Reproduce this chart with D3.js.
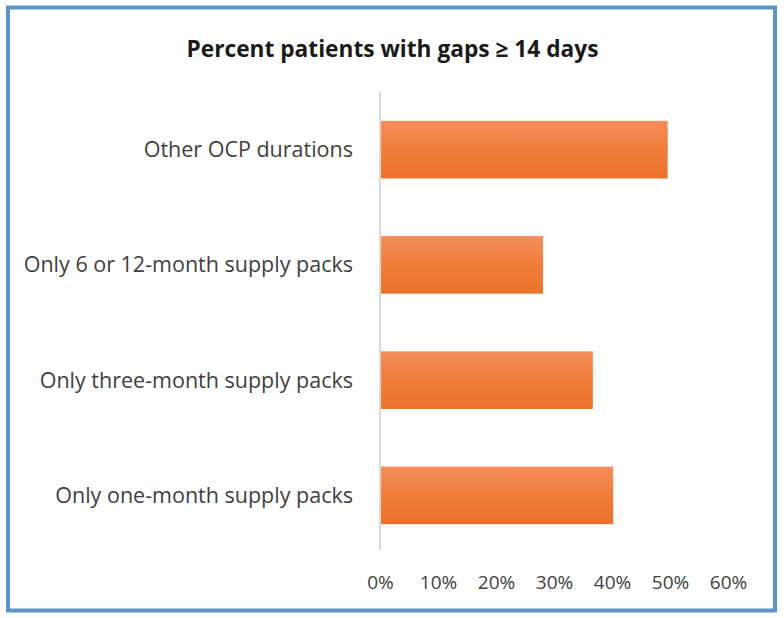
<!DOCTYPE html>
<html><head><meta charset="utf-8">
<script src="https://cdn.jsdelivr.net/npm/d3@7"></script>
<style>body{margin:0;background:#fff}svg{display:block}</style>
</head><body>
<script>
const categories = ["Other OCP durations","Only 6 or 12-month supply packs","Only three-month supply packs","Only one-month supply packs"];
const values = [49.6, 28.1, 36.7, 40.2];
const tickValues = [0,10,20,30,40,50,60];
const title = "Percent patients with gaps \u2265 14 days";

const W=784,H=618;
const FONT="'Open Sans', Lato, sans-serif";
const svg=d3.select("body").append("svg").attr("width",W).attr("height",H);
const defs=svg.append("defs");
const g=defs.append("linearGradient").attr("id","og").attr("x1",0).attr("y1",0).attr("x2",0).attr("y2",1);
g.append("stop").attr("offset","0%").attr("stop-color","#f48e5c");
g.append("stop").attr("offset","50%").attr("stop-color","#f07d3a");
g.append("stop").attr("offset","100%").attr("stop-color","#ec722c");

svg.append("rect").attr("x",8).attr("y",7.5).attr("width",767).attr("height",603)
  .attr("fill","#fff").attr("stroke","#5b93c8").attr("stroke-width",4);

svg.append("text").attr("x",392.5).attr("y",57).attr("text-anchor","middle")
  .attr("font-family",FONT).attr("font-weight","bold")
  .attr("font-size",22.7).attr("fill","#1a1a1a").text(title);

const x=d3.scaleLinear().domain([0,60]).range([380,728]);
const y=d3.scaleBand().domain(categories).range([92,553]).paddingInner(0.5).paddingOuter(0.25);

svg.selectAll("rect.bar").data(categories).enter().append("rect").attr("class","bar")
  .attr("x",x(0)).attr("y",d=>y(d)).attr("height",y.bandwidth())
  .attr("width",(d,i)=>x(values[i])-x(0)).attr("fill","url(#og)");

svg.append("line").attr("x1",x(0)).attr("x2",x(0)).attr("y1",92).attr("y2",550)
  .attr("stroke","#d9d9d9").attr("stroke-width",2);

const yAxis=d3.axisLeft(y).tickSize(0).tickPadding(27);
const ya=svg.append("g").attr("transform",`translate(${x(0)},0)`).call(yAxis);
ya.select(".domain").remove();
ya.selectAll("text").attr("font-family",FONT).attr("font-size",21.5).attr("fill","#404040").attr("dy","0.35em");

const xAxis=d3.axisBottom(x).tickValues(tickValues).tickFormat(d=>d+"%").tickSize(0).tickPadding(0);
const xa=svg.append("g").attr("transform","translate(0,575)").call(xAxis);
xa.select(".domain").remove();
xa.selectAll("text").attr("font-family",FONT).attr("font-size",19).attr("fill","#404040");
</script>
</body></html>
